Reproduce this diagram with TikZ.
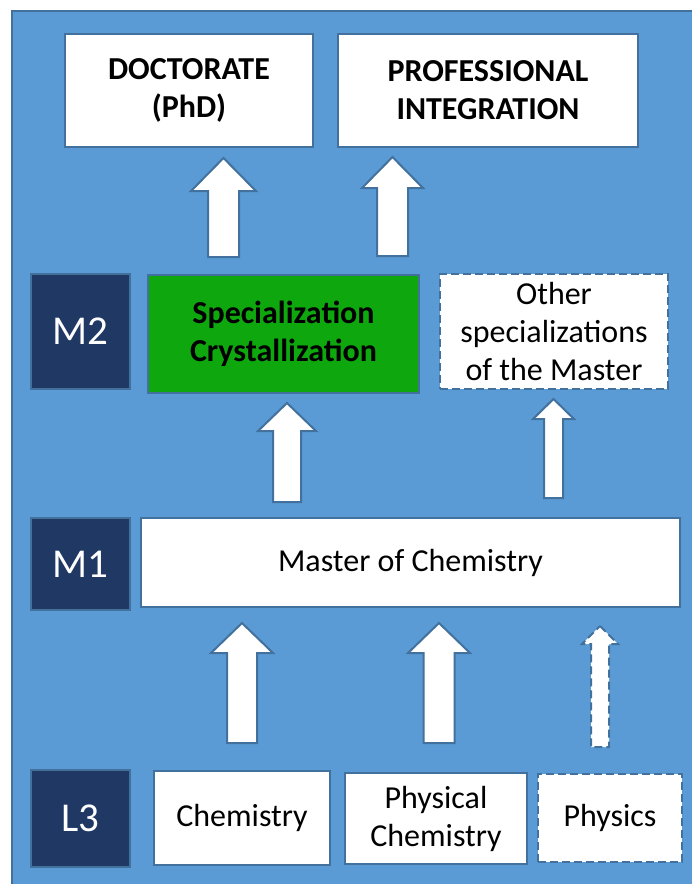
\documentclass[tikz,border=0pt]{standalone}
\usepackage{fontspec}
\setmainfont{Carlito}
\definecolor{bgblue}{RGB}{91,155,213}
\definecolor{edgeblue}{RGB}{65,113,156}
\definecolor{navy}{RGB}{31,56,100}
\definecolor{boxgreen}{RGB}{14,168,14}
\begin{document}
\begin{tikzpicture}[x=1pt,y=-1pt,
  box/.style={draw=edgeblue, line width=2pt, fill=white, anchor=north west,
    inner sep=0pt, align=center, font=\fontsize{32}{38}\selectfont, text=black},
  dashbox/.style={box, dash pattern=on 8pt off 4pt},
  levelbox/.style={box, fill=navy, text=white, font=\fontsize{41}{44}\selectfont},
  greenbox/.style={box, fill=boxgreen, font=\fontsize{32}{38}\selectfont\bfseries},
  boldbox/.style={box, font=\fontsize{32}{38}\selectfont\bfseries},
  blockarrow/.style={draw=edgeblue, line width=2pt, fill=white, line join=miter},
  dasharrow/.style={blockarrow, dash pattern=on 8pt off 4pt}
]
\useasboundingbox (0,0) rectangle (692,884);
% background
\begin{scope}
\clip (0,0) rectangle (692,884);
\fill[bgblue, draw=edgeblue, line width=2.5pt] (12,11) rectangle (720,910);
\end{scope}
% top row
\node[boldbox, minimum width=248pt, minimum height=113pt] (doc) at (64,33) {DOCTORATE\\(PhD)};
\node[boldbox, minimum width=300pt, minimum height=113pt] (prof) at (337,33) {PROFESSIONAL\\INTEGRATION};
% M2 row
\node[levelbox, minimum width=99pt, minimum height=115pt] (m2) at (30,273) {M2};
\node[greenbox, minimum width=271pt, minimum height=118pt] (spec) at (147,274) {Specialization\\Crystallization};
\node[dashbox, minimum width=228pt, minimum height=115pt] (other) at (439,273) {Other\\specializations\\of the Master};
% M1 row
\node[levelbox, minimum width=99pt, minimum height=92pt] (m1) at (30,517) {M1};
\node[box, minimum width=539pt, minimum height=89pt] (master) at (140,517) {Master of Chemistry};
% L3 row
\node[levelbox, minimum width=99pt, minimum height=97pt] (l3) at (30,769) {L3};
\node[box, minimum width=176pt, minimum height=94pt] (chem) at (153,770) {Chemistry};
\node[box, minimum width=182pt, minimum height=91pt] (pchem) at (344,772) {Physical\\Chemistry};
\node[dashbox, minimum width=144pt, minimum height=88pt] (phys) at (537,773) {Physics};
% block arrows: \barrow[style]{cx}{tip y}{head base y}{bottom y}{head half}{shaft half}
\newcommand{\barrow}[7][blockarrow]{%
  \draw[#1] (#2,#3) -- (#2+#6,#4) -- (#2+#7,#4) -- (#2+#7,#5)
     -- (#2-#7,#5) -- (#2-#7,#4) -- (#2-#6,#4) -- cycle;}
\barrow{223.5}{158}{191}{257}{32.5}{15.5}
\barrow{392.5}{157}{188}{256}{30.5}{15.5}
\barrow{287}{403}{431}{502}{29}{14}
\barrow{553.5}{399}{419}{498}{20.5}{9.5}
\barrow{242}{623}{653}{743}{31}{15}
\barrow{439}{623}{653}{743}{31}{15.5}
\barrow[dasharrow]{600}{626}{644}{747}{18}{9}
\end{tikzpicture}
\end{document}
